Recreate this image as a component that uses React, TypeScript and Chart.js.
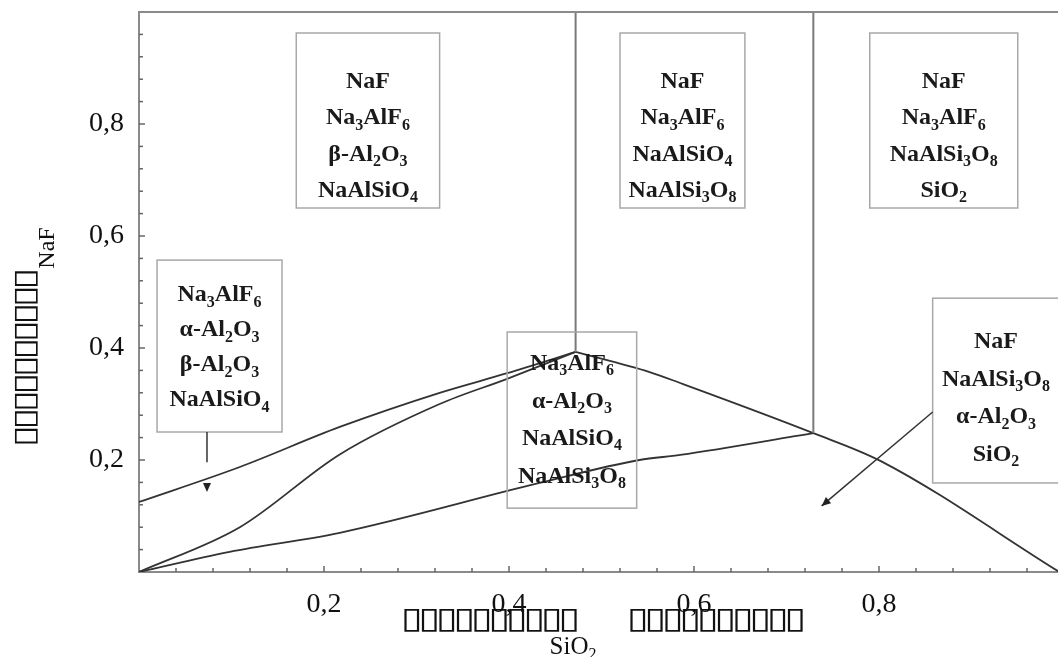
import React, { useEffect, useRef } from "react";
import { Chart, registerables } from "chart.js";

Chart.register(...registerables);

// ---- tick labels ----
const X_TICK_VALUES = [0.2, 0.4, 0.6, 0.8];
const X_TICK_LABELS = ["0,2", "0,4", "0,6", "0,8"];
const Y_TICK_VALUES = [0.2, 0.4, 0.6, 0.8];
const Y_TICK_LABELS = ["0,2", "0,4", "0,6", "0,8"];
const MINOR_TICKS = [0.04, 0.08, 0.12, 0.16, 0.24, 0.28, 0.32, 0.36, 0.44, 0.48, 0.52, 0.56, 0.64, 0.68, 0.72, 0.76, 0.84, 0.88, 0.92, 0.96];

// ---- axis titles (the source's words are shown only as empty boxes) ----
const Y_TITLE_WORD = "▯▯▯▯▯▯▯▯▯▯";
const Y_TITLE_SPECIES = "NaF";
const X_TITLE_WORD_1 = "▯▯▯▯▯▯▯▯▯▯";
const X_TITLE_WORD_2 = "▯▯▯▯▯▯▯▯▯▯";
const X_TITLE_SPECIES = "SiO2";

// ---- phase boundaries (x = SiO2 fraction, y = NaF fraction) ----
const UPPER_X = [0, 0.109, 0.217, 0.325, 0.398, 0.472];
const UPPER_Y = [0.125, 0.1875, 0.259, 0.32, 0.355, 0.393];
const MIDDLE_X = [0, 0.109, 0.217, 0.325, 0.398, 0.472];
const MIDDLE_Y = [0, 0.08, 0.21, 0.3, 0.345, 0.393];
const LOWER_X = [0, 0.098, 0.217, 0.433, 0.541, 0.585, 0.729];
const LOWER_Y = [0, 0.036, 0.07, 0.159, 0.2, 0.209, 0.248];
const FALLING_X = [0.472, 0.552, 0.585, 0.729, 0.802, 0.995];
const FALLING_Y = [0.393, 0.357, 0.3375, 0.248, 0.198, 0.0];
const VERT1_X = [0.472, 0.472];
const VERT1_Y = [0.393, 1.0];
const VERT2_X = [0.729, 0.729];
const VERT2_Y = [0.248, 1.0];

// ---- phase field labels ----
const FIELD_A = ["NaF", "Na3AlF6", "β-Al2O3", "NaAlSiO4"];
const FIELD_B = ["NaF", "Na3AlF6", "NaAlSiO4", "NaAlSi3O8"];
const FIELD_C = ["NaF", "Na3AlF6", "NaAlSi3O8", "SiO2"];
const FIELD_D = ["Na3AlF6", "α-Al2O3", "β-Al2O3", "NaAlSiO4"];
const FIELD_E = ["Na3AlF6", "α-Al2O3", "NaAlSiO4", "NaAlSi3O8"];
const FIELD_F = ["NaF", "NaAlSi3O8", "α-Al2O3", "SiO2"];

// annotation layout (data coordinates)
const BOXES = [
  { x0: 0.17, x1: 0.325, y0: 0.65, y1: 0.9625, first: 0.879, step: 0.065, lines: FIELD_A },
  { x0: 0.52, x1: 0.655, y0: 0.65, y1: 0.9625, first: 0.879, step: 0.065, lines: FIELD_B },
  { x0: 0.79, x1: 0.95, y0: 0.65, y1: 0.9625, first: 0.879, step: 0.065, lines: FIELD_C },
  { x0: 0.0195, x1: 0.1546, y0: 0.25, y1: 0.557, first: 0.498, step: 0.0625, lines: FIELD_D },
  { x0: 0.398, x1: 0.538, y0: 0.114, y1: 0.4286, first: 0.375, step: 0.067, lines: FIELD_E },
  { x0: 0.858, x1: 0.995, y0: 0.159, y1: 0.489, first: 0.414, step: 0.067, lines: FIELD_F },
];
const ARROWS = [
  { from: [0.0735, 0.25], lineEnd: [0.0735, 0.196], tip: [0.0735, 0.143] },
  { from: [0.858, 0.2857], lineEnd: [0.738, 0.118], tip: [0.738, 0.118] },
];

const SERIF = "'Liberation Serif', 'Times New Roman', serif";
const BOXFONT = "'DejaVu Sans'";

function drawFormula(ctx: CanvasRenderingContext2D, text: string, cx: number, cy: number, size: number, bold: boolean) {
  const w = bold ? "bold " : "";
  const big = `${w}${size}px ${SERIF}`;
  const small = `${w}${Math.round(size * 0.65)}px ${SERIF}`;
  const parts: { t: string; sub: boolean }[] = [];
  for (let i = 0; i < text.length; i++) {
    const ch = text[i];
    const sub = /[0-9]/.test(ch) && i > 0 && /[A-Za-z]/.test(text[i - 1]);
    const last = parts[parts.length - 1];
    if (last && last.sub === sub) last.t += ch;
    else parts.push({ t: ch, sub });
  }
  let total = 0;
  for (const p of parts) {
    ctx.font = p.sub ? small : big;
    total += ctx.measureText(p.t).width;
  }
  let x = cx - total / 2;
  const base = cy + size * 0.34;
  ctx.textAlign = "left";
  ctx.textBaseline = "alphabetic";
  for (const p of parts) {
    ctx.font = p.sub ? small : big;
    ctx.fillText(p.t, x, p.sub ? base + size * 0.22 : base);
    x += ctx.measureText(p.t).width;
  }
}

// draws a run of empty boxes: each glyph stretched to ~16px wide, ~1.5px apart
function drawBoxWord(ctx: CanvasRenderingContext2D, text: string, cx: number, cy: number) {
  ctx.save();
  ctx.font = `30px ${BOXFONT}`;
  (ctx as any).letterSpacing = "0px";
  const m = ctx.measureText("▯");
  const glyphW = Math.max(1, m.actualBoundingBoxRight + m.actualBoundingBoxLeft);
  const sx = 16 / glyphW;
  const pitch = 17.5 / sx;
  (ctx as any).letterSpacing = `${pitch - m.width}px`;
  const n = Array.from(text).length;
  const total = n * pitch - (pitch - glyphW);
  ctx.translate(cx, cy);
  ctx.scale(sx, 1);
  ctx.textAlign = "left";
  ctx.textBaseline = "middle";
  ctx.fillText(text, -total / 2 + m.actualBoundingBoxLeft, 0);
  ctx.restore();
}

const phasePlugin = {
  id: "phaseAnnotations",
  afterDatasetsDraw(chart: any) {
    const { ctx, chartArea: area } = chart;
    const xs = chart.scales.x;
    const ys = chart.scales.y;
    const px = (v: number) => xs.getPixelForValue(v);
    const py = (v: number) => ys.getPixelForValue(v);
    ctx.save();

    // frame top
    ctx.strokeStyle = "#8a8a8a";
    ctx.lineWidth = 2;
    ctx.beginPath();
    ctx.moveTo(area.left, area.top);
    ctx.lineTo(area.right, area.top);
    ctx.stroke();

    // inward ticks
    ctx.lineWidth = 1.5;
    ctx.strokeStyle = "#666";
    const drawTicks = (vals: number[], len: number) => {
      for (const v of vals) {
        const X = px(v);
        ctx.beginPath();
        ctx.moveTo(X, area.bottom);
        ctx.lineTo(X, area.bottom - len);
        ctx.stroke();
        const Y = py(v);
        ctx.beginPath();
        ctx.moveTo(area.left, Y);
        ctx.lineTo(area.left + len, Y);
        ctx.stroke();
      }
    };
    drawTicks(MINOR_TICKS, 4);
    drawTicks(X_TICK_VALUES, 6);

    // boxes
    for (const b of BOXES) {
      const l = px(b.x0), r = px(b.x1), t = py(b.y1), bt = py(b.y0);
      ctx.strokeStyle = "#a8a8a8";
      ctx.lineWidth = 1.5;
      ctx.strokeRect(l, t, r - l, bt - t);
      ctx.fillStyle = "#1a1a1a";
      const cx = (l + r) / 2;
      b.lines.forEach((line, i) => {
        drawFormula(ctx, line, cx, py(b.first - i * b.step), 24, true);
      });
    }

    // arrows
    ctx.strokeStyle = "#333";
    ctx.fillStyle = "#222";
    ctx.lineWidth = 1.5;
    for (const a of ARROWS) {
      const x0 = px(a.from[0]), y0 = py(a.from[1]);
      const x1 = px(a.lineEnd[0]), y1 = py(a.lineEnd[1]);
      const tx = px(a.tip[0]), ty = py(a.tip[1]);
      ctx.beginPath();
      ctx.moveTo(x0, y0);
      ctx.lineTo(x1, y1);
      ctx.stroke();
      const ang = Math.atan2(ty - y0, tx - x0);
      const L = 9, H = 4;
      ctx.beginPath();
      ctx.moveTo(tx, ty);
      ctx.lineTo(tx - L * Math.cos(ang) + H * Math.sin(ang), ty - L * Math.sin(ang) - H * Math.cos(ang));
      ctx.lineTo(tx - L * Math.cos(ang) - H * Math.sin(ang), ty - L * Math.sin(ang) + H * Math.cos(ang));
      ctx.closePath();
      ctx.fill();
    }

    // axis titles
    ctx.fillStyle = "#111";
    drawBoxWord(ctx, X_TITLE_WORD_1, 490, 620);
    drawBoxWord(ctx, X_TITLE_WORD_2, 716, 620);
    drawFormula(ctx, X_TITLE_SPECIES, 573, 645, 25, false);

    ctx.save();
    ctx.translate(26, 358);
    ctx.rotate(-Math.PI / 2);
    drawBoxWord(ctx, Y_TITLE_WORD, 0, 0);
    ctx.restore();
    ctx.save();
    ctx.translate(48, 248);
    ctx.rotate(-Math.PI / 2);
    ctx.font = `24px ${SERIF}`;
    ctx.textAlign = "center";
    ctx.textBaseline = "middle";
    ctx.fillText(Y_TITLE_SPECIES, 0, 0);
    ctx.restore();

    ctx.restore();
  },
};

function series(xs: number[], ys: number[], color: string, width: number, smooth: boolean) {
  return {
    data: xs.map((x, i) => ({ x, y: ys[i] })),
    showLine: true,
    borderColor: color,
    borderWidth: width,
    pointRadius: 0,
    fill: false,
    cubicInterpolationMode: smooth ? "monotone" : "default",
    tension: 0,
  };
}

export default function App() {
  const ref = useRef<HTMLCanvasElement | null>(null);
  useEffect(() => {
    document.body.style.margin = "0";
    document.body.style.overflow = "hidden";
    const canvas = ref.current!;
    const chart = new Chart(canvas, {
      type: "scatter",
      data: {
        datasets: [
          series(VERT1_X, VERT1_Y, "#7a7a7a", 2, false),
          series(VERT2_X, VERT2_Y, "#7a7a7a", 2, false),
          series(UPPER_X, UPPER_Y, "#333", 1.8, true),
          series(MIDDLE_X, MIDDLE_Y, "#333", 1.8, true),
          series(LOWER_X, LOWER_Y, "#333", 1.8, true),
          series(FALLING_X, FALLING_Y, "#333", 1.8, true),
        ] as any,
      },
      options: {
        animation: false,
        responsive: false,
        layout: { padding: { top: 12, right: 0, left: 0, bottom: 0 } },
        plugins: { legend: { display: false }, tooltip: { enabled: false }, title: { display: false } },
        scales: {
          x: {
            type: "linear",
            min: 0,
            max: 0.9935,
            afterBuildTicks: (s: any) => {
              s.ticks = X_TICK_VALUES.map((v) => ({ value: v }));
            },
            afterFit: (s: any) => {
              s.height = 85;
              s.paddingLeft = 0;
              s.paddingRight = 0;
            },
            grid: { display: false, drawTicks: false },
            border: { display: true, color: "#8a8a8a", width: 2 },
            ticks: {
              callback: (_v: any, i: number) => X_TICK_LABELS[i],
              font: { family: SERIF, size: 28 },
              color: "#111",
              padding: 16,
              maxRotation: 0,
              autoSkip: false,
            },
          },
          y: {
            type: "linear",
            min: 0,
            max: 1,
            afterBuildTicks: (s: any) => {
              s.ticks = Y_TICK_VALUES.map((v) => ({ value: v }));
            },
            afterFit: (s: any) => {
              s.width = 139;
              s.paddingTop = 0;
              s.paddingBottom = 0;
            },
            grid: { display: false, drawTicks: false },
            border: { display: true, color: "#8a8a8a", width: 2 },
            ticks: {
              callback: (_v: any, i: number) => Y_TICK_LABELS[i],
              font: { family: SERIF, size: 28 },
              color: "#111",
              padding: 15,
              autoSkip: false,
            },
          },
        },
      } as any,
      plugins: [phasePlugin],
    });
    return () => chart.destroy();
  }, []);
  return <canvas ref={ref} width={1058} height={657} style={{ display: "block" }} />;
}
